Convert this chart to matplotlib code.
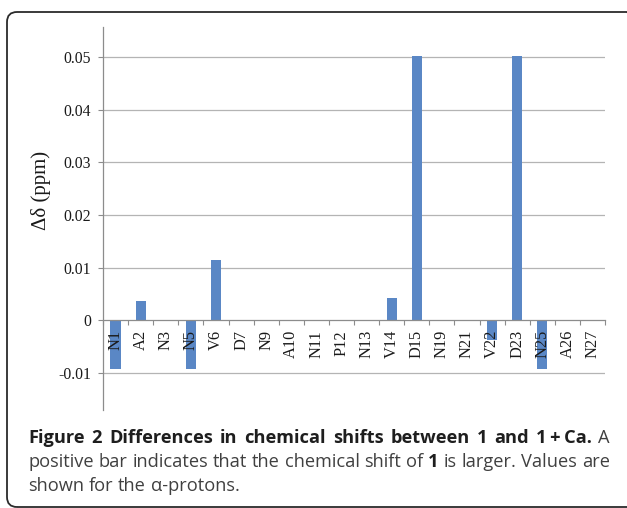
import matplotlib
matplotlib.use("Agg")

import matplotlib.pyplot as plt
from matplotlib.font_manager import FontProperties
from matplotlib.patches import FancyBboxPatch

residues = ["N1", "A2", "N3", "N5", "V6", "D7", "N9", "A10", "N11", "P12",
            "N13", "V14", "D15", "N19", "N21", "V22", "D23", "N25", "A26", "N27"]
delta_ppm = [-0.0092, 0.0036, 0.0, -0.0092, 0.0115, 0.0, 0.0, 0.0, 0.0, 0.0,
             0.0, 0.0042, 0.0502, 0.0, 0.0, -0.0038, 0.0502, -0.0092, 0.0, 0.0]
y_ticks = [-0.01, 0.0, 0.01, 0.02, 0.03, 0.04, 0.05]
y_tick_labels = ["-0.01", "0", "0.01", "0.02", "0.03", "0.04", "0.05"]

W, H = 627, 508
serif = "Liberation Serif"
grey = "#8c8c8c"
bar_color = "#5a87c5"

fig = plt.figure(figsize=(W / 100, H / 100), dpi=100)

# rounded frame around chart + caption (pixel coords), right side runs off the image
frame = FancyBboxPatch((7, 1), 630, 495, boxstyle="round,pad=0,rounding_size=10",
                       transform=None, fill=False, edgecolor="#2b2b2b", lw=1.3)
fig.patches.append(frame)

ax = fig.add_axes([103 / W, 1 - 410 / H, 502 / W, 383 / H])
x = list(range(len(residues)))
ax.bar(x, delta_ppm, width=0.41, color=bar_color, zorder=1)

ax.set_xlim(-0.5, len(residues) - 0.5)
ax.set_ylim(-0.01702, 0.05566)

for yt in y_ticks:
    if yt != 0:
        ax.axhline(yt, color="#b4b4b4", lw=0.9, zorder=0.5)

ax.set_axisbelow(False)
for side in ["top", "right"]:
    ax.spines[side].set_visible(False)
ax.spines["left"].set_color(grey)
ax.spines["left"].set_linewidth(0.9)
ax.spines["bottom"].set_position(("data", 0))
ax.spines["bottom"].set_color(grey)
ax.spines["bottom"].set_linewidth(0.9)

ax.set_yticks(y_ticks)
ax.set_yticklabels(y_tick_labels, family=serif, fontsize=11.3, color="#1a1a1a")
ax.tick_params(axis="y", direction="out", length=3.6, width=0.8, color=grey, pad=5)

ax.set_xticks(x)
ax.set_xticklabels(residues, rotation=90, family=serif, fontsize=11.8, color="#1a1a1a")
ax.set_xticks([i - 0.5 for i in range(len(residues) + 1)], minor=True)
ax.tick_params(axis="x", which="major", length=0, pad=7)
ax.tick_params(axis="x", which="minor", direction="out", length=3.6, width=0.8, color=grey)

fig.text(41 / W, 1 - 190 / H, "Δδ (ppm)", rotation=90, ha="center", va="center",
         family=serif, fontsize=15, color="#1a1a1a")

# caption: justified text with mixed bold / regular runs
renderer = fig.canvas.get_renderer()
cap_font = "Open Sans"


def advance(s, size, bold):
    fp = FontProperties(family=cap_font, size=size, weight="bold" if bold else "normal")
    w1 = renderer.get_text_width_height_descent("|" + s + "|", fp, ismath=False)[0]
    w0 = renderer.get_text_width_height_descent("||", fp, ismath=False)[0]
    return w1 - w0


caption = [
    [("Figure 2 Differences in chemical shifts between 1 and 1\u2009+\u2009Ca.", True), (" A", False)],
    [("positive bar indicates that the chemical shift of ", False), ("1", True),
     (" is larger. Values are", False)],
    [("shown for the \u03b1-protons.", False)],
]
justify = [True, True, False]
baselines = [443, 467, 491]
left_px, line_w = 28, 582


def words_of(line):
    # list of (word, bold); a None entry marks a space
    out = []
    for s, bold in line:
        parts = s.split(" ")
        for i, p in enumerate(parts):
            if i > 0:
                out.append(None)
            if p:
                out.append((p, bold))
    return out


widest = max(sum(advance(s, 10, b) for s, b in line) for line in caption)
cap_size = 10 * line_w / widest

for line, base, just in zip(caption, baselines, justify):
    toks = words_of(line)
    natural = sum(advance(s, cap_size, b) for s, b in line)
    n_gaps = sum(1 for t in toks if t is None)
    extra = (line_w - natural) / n_gaps if just and n_gaps else 0
    prev_bold = False
    xp = left_px
    for t in toks:
        if t is None:
            xp += advance(" ", cap_size, prev_bold) + extra
            continue
        word, bold = t
        fig.text(xp / W, 1 - base / H, word, family=cap_font, fontsize=cap_size,
                 weight="bold" if bold else "normal",
                 color="#1e1e1e" if bold else "#404040", va="baseline")
        xp += advance(word, cap_size, bold)
        prev_bold = bold

fig.savefig("out.png", dpi=100)
plt.close(fig)
